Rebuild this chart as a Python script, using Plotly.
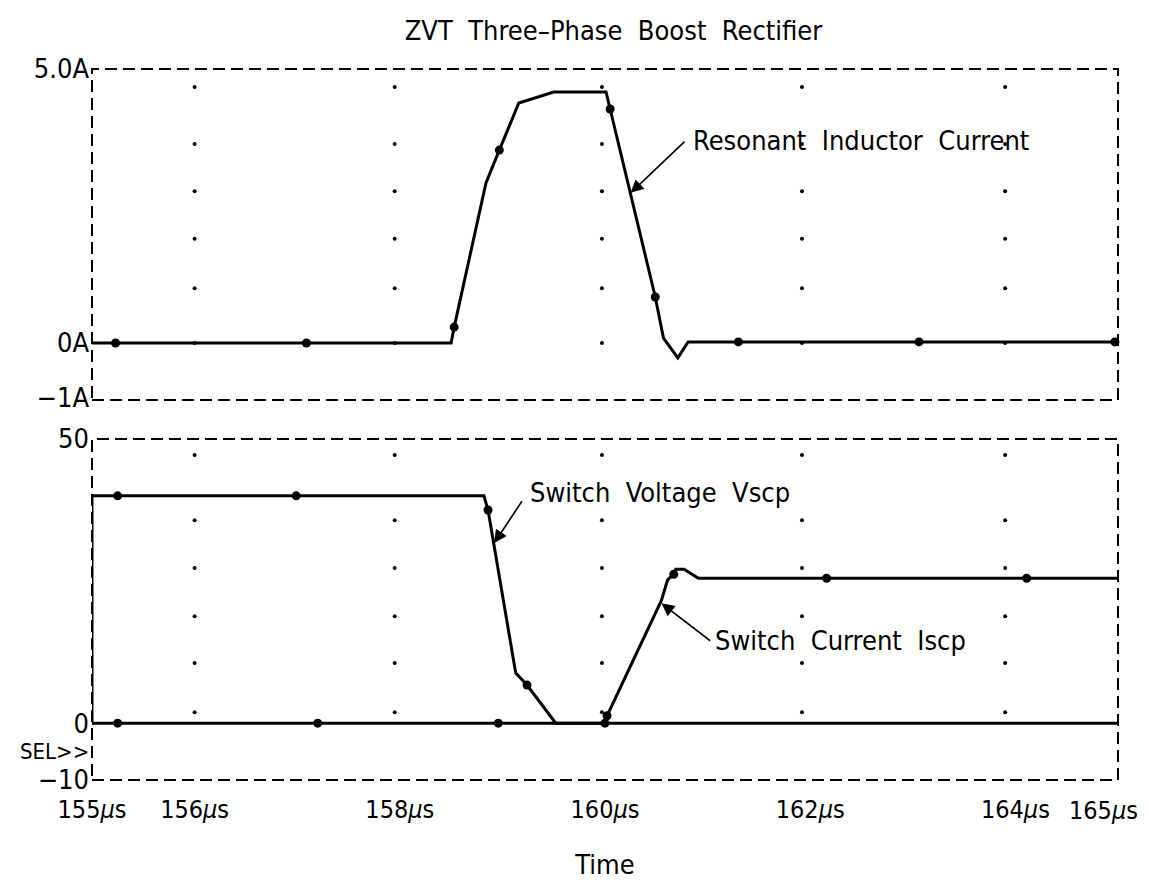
import plotly.graph_objects as go

# time axis (microseconds)
t_ticks = [155, 156, 158, 160, 162, 164]
t_ticktext = ["155<i>µ</i>s", "156<i>µ</i>s", "158<i>µ</i>s", "160<i>µ</i>s",
              "162<i>µ</i>s", "164<i>µ</i>s"]
t_end_label = "165<i>µ</i>s"

# resonant inductor current (A)
il_t = [155.0, 158.50, 158.53, 158.84, 158.97, 159.16, 159.50, 160.01, 160.05,
        160.49, 160.57, 160.71, 160.81, 165.0]
il_v = [0.0, 0.0, 0.29, 2.92, 3.52, 4.38, 4.58, 4.58, 4.27,
        0.84, 0.09, -0.27, 0.02, 0.02]
il_mark_t = [155.23, 157.09, 158.53, 158.97, 160.05, 160.49, 161.30, 163.06, 164.97]
il_mark_v = [0.0, 0.0, 0.29, 3.52, 4.27, 0.84, 0.02, 0.02, 0.02]

# switch voltage Vscp
vs_t = [155.0, 155.0, 158.82, 158.86, 159.13, 159.24, 159.52, 165.0]
vs_v = [0.0, 40.0, 40.0, 37.5, 8.8, 6.7, 0.0, 0.0]
vs_mark_t = [155.25, 156.99, 158.86, 159.24]
vs_mark_v = [40.0, 40.0, 37.5, 6.7]

# switch current Iscp
is_t = [155.0, 160.0, 160.02, 160.55, 160.61, 160.67, 160.69, 160.77, 160.91, 165.0]
is_v = [0.0, 0.0, 1.3, 21.6, 25.2, 26.2, 27.1, 27.1, 25.5, 25.5]
is_mark_t = [155.25, 157.2, 158.96, 160.0, 160.02, 160.67, 162.16, 164.11]
is_mark_v = [0.0, 0.0, 0.0, 0.0, 1.3, 26.2, 25.5, 25.5]

# dotted grid
grid_t = [156.0, 157.95, 159.97, 161.92, 163.9]
grid_top = [0.0, 1.0, 1.9, 2.77, 3.63, 4.67]
grid_bot = [1.9, 10.6, 18.8, 27.3, 35.7, 47.2]

FONT = "DejaVu Sans Condensed, Liberation Sans Narrow, sans-serif"
LINE = dict(color="black", width=3)

fig = go.Figure()

# grid dots
for yv, ax in [(grid_top, "y"), (grid_bot, "y2")]:
    gx = [t for t in grid_t for _ in yv]
    gy = [v for _ in grid_t for v in yv]
    fig.add_trace(go.Scatter(x=gx, y=gy, mode="markers", xaxis="x" if ax == "y" else "x2",
                             yaxis=ax, marker=dict(color="black", size=4),
                             hoverinfo="skip", showlegend=False))

# top panel
fig.add_trace(go.Scatter(x=il_t, y=il_v, mode="lines", line=LINE, xaxis="x", yaxis="y",
                         name="Resonant Inductor Current", showlegend=False))
fig.add_trace(go.Scatter(x=il_mark_t, y=il_mark_v, mode="markers", xaxis="x", yaxis="y",
                         marker=dict(color="black", size=9), showlegend=False,
                         cliponaxis=False))

# bottom panel
fig.add_trace(go.Scatter(x=vs_t, y=vs_v, mode="lines", line=LINE, xaxis="x2", yaxis="y2",
                         name="Switch Voltage Vscp", showlegend=False))
fig.add_trace(go.Scatter(x=is_t, y=is_v, mode="lines", line=LINE, xaxis="x2", yaxis="y2",
                         name="Switch Current Iscp", showlegend=False))
fig.add_trace(go.Scatter(x=vs_mark_t + is_mark_t, y=vs_mark_v + is_mark_v, mode="markers",
                         xaxis="x2", yaxis="y2", marker=dict(color="black", size=9),
                         showlegend=False, cliponaxis=False))

# dashed frames
for xr, yr in [("x domain", "y domain"), ("x2 domain", "y2 domain")]:
    fig.add_shape(type="rect", xref=xr, yref=yr, x0=0, x1=1, y0=0, y1=1,
                  line=dict(color="black", width=2, dash="12px,6px"), layer="below")

ann_font = dict(family=FONT, size=27, color="black")
tick_font = dict(family=FONT, size=25, color="black")
arrow = dict(showarrow=True, arrowhead=2, arrowsize=1.6, arrowwidth=1.6, arrowcolor="black",
             text="")
fig.add_annotation(x=160.25, y=2.74, ax=160.79, ay=3.70, xref="x", yref="y",
                   axref="x", ayref="y", **arrow)
fig.add_annotation(x=160.84, y=3.70, xref="x", yref="y", text="Resonant  Inductor  Current",
                   showarrow=False, xanchor="left", yanchor="middle", font=ann_font)
fig.add_annotation(x=158.92, y=31.7, ax=159.20, ay=39.3, xref="x2", yref="y2",
                   axref="x2", ayref="y2", **arrow)
fig.add_annotation(x=159.25, y=40.5, xref="x2", yref="y2", text="Switch  Voltage  Vscp",
                   showarrow=False, xanchor="left", yanchor="middle", font=ann_font)
fig.add_annotation(x=160.55, y=21.1, ax=161.04, ay=14.3, xref="x2", yref="y2",
                   axref="x2", ayref="y2", **arrow)
fig.add_annotation(x=161.05, y=14.6, xref="x2", yref="y2", text="Switch  Current  Iscp",
                   showarrow=False, xanchor="left", yanchor="middle", font=ann_font)
fig.add_annotation(x=0, y=-5.0, xref="x2 domain", yref="y2", text="SEL>>",
                   showarrow=False, xanchor="right", yanchor="middle", xshift=-1,
                   font=dict(family=FONT, size=22, color="black"))
# last time label sits at the right edge, kept inside the page
fig.add_annotation(x=1, y=0, xref="x2 domain", yref="y2 domain", text=t_end_label,
                   showarrow=False, xanchor="right", yanchor="top", xshift=22, yshift=-14,
                   font=tick_font)

axis_common = dict(showgrid=False, zeroline=False, showline=False, ticks="",
                   automargin=False,
                   tickfont=dict(family=FONT, size=27, color="black"))

fig.update_layout(
    width=1149, height=883,
    margin=dict(l=84, r=39, t=61, b=111),
    paper_bgcolor="white", plot_bgcolor="white",
    title=dict(text="ZVT  Three–Phase  Boost  Rectifier", x=0.527, xanchor="center",
               y=0.975, yanchor="middle", font=dict(family=FONT, size=27, color="black")),
    xaxis=dict(domain=[0, 1], range=[155, 165], anchor="y", showticklabels=False,
               **axis_common),
    yaxis=dict(domain=[0.5345, 1], range=[-1.04, 5.0], tickvals=[-1, 0, 5],
               ticktext=["−1A", "0A", "5.0A"], ticklabelstandoff=2, **axis_common),
    xaxis2=dict(domain=[0, 1], range=[154.999, 165], anchor="y2", matches="x",
                tickvals=t_ticks, ticktext=t_ticktext, ticklabelstandoff=12,
                title=dict(text="Time", standoff=32,
                           font=dict(family=FONT, size=27, color="black")),
                **axis_common),
    yaxis2=dict(domain=[0, 0.4796], range=[-10, 50], tickvals=[-10, 0, 50],
                ticktext=["−10", "0", "50"], ticklabelstandoff=2, **axis_common),
)
fig.update_xaxes(tickfont=tick_font, selector=dict(anchor="y2"))

fig.write_html("out.html")
